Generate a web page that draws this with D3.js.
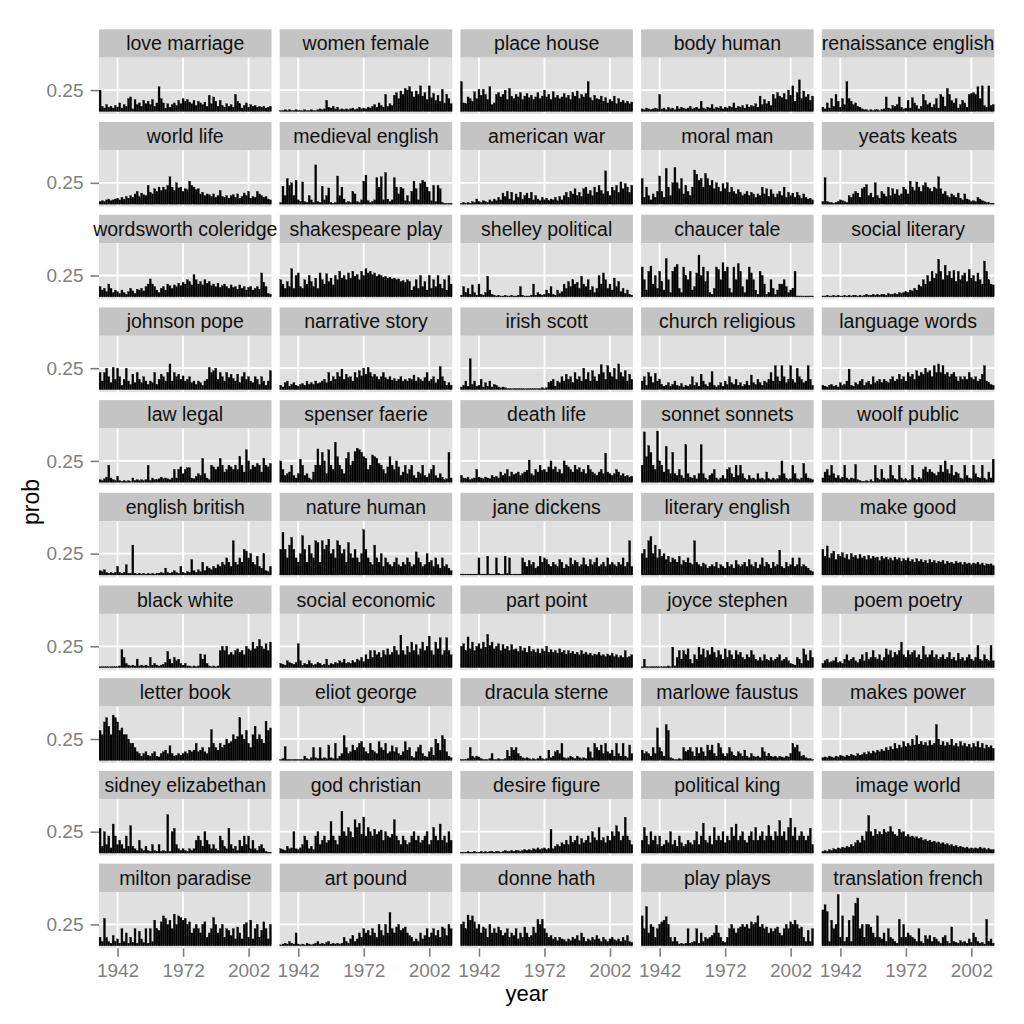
<!DOCTYPE html>
<html><head><meta charset="utf-8">
<script src="https://cdn.jsdelivr.net/npm/d3@7"></script>
<style>html,body{margin:0;padding:0;background:#fff;} svg{display:block;font-family:"Liberation Sans",Arial,Helvetica,sans-serif;}</style>
</head><body><svg id="chart" width="1024" height="1024"></svg>
<script>
// ---- categories / ticks ----
const years = [1934,1935,1936,1937,1938,1939,1940,1941,1942,1943,1944,1945,1946,1947,1948,1949,1950,1951,1952,1953,1954,1955,1956,1957,1958,1959,1960,1961,1962,1963,1964,1965,1966,1967,1968,1969,1970,1971,1972,1973,1974,1975,1976,1977,1978,1979,1980,1981,1982,1983,1984,1985,1986,1987,1988,1989,1990,1991,1992,1993,1994,1995,1996,1997,1998,1999,2000,2001,2002,2003,2004,2005,2006,2007,2008,2009,2010,2011,2012];
const topics = ["love marriage","women female","place house","body human","renaissance english",
"world life","medieval english","american war","moral man","yeats keats",
"wordsworth coleridge","shakespeare play","shelley political","chaucer tale","social literary",
"johnson pope","narrative story","irish scott","church religious","language words",
"law legal","spenser faerie","death life","sonnet sonnets","woolf public",
"english british","nature human","jane dickens","literary english","make good",
"black white","social economic","part point","joyce stephen","poem poetry",
"letter book","eliot george","dracula sterne","marlowe faustus","makes power",
"sidney elizabethan","god christian","desire figure","political king","image world",
"milton paradise","art pound","donne hath","play plays","translation french"];
const xTicks = [1942, 1972, 2002];
const yTicks = [0.25];

// ---- series values: prob x 100, one value per year ----
const loveMarriage = [25,6,4,8,5,6,4,7,5,10,4,8,6,15,17,3,14,8,10,6,13,9,12,8,14,6,10,29,15,10,4,9,5,8,10,7,13,9,15,12,14,11,9,13,7,12,10,8,11,6,19,9,17,12,6,13,7,5,9,6,8,5,20,12,9,4,7,10,5,8,6,7,5,6,5,6,4,5,6];
const womenFemale = [1,1,2,1,2,1,1,2,1,1,1,2,1,1,2,1,1,2,3,2,3,13,5,4,6,3,5,2,3,2,3,2,3,4,2,3,5,3,4,3,5,4,6,8,5,10,7,5,20,6,9,7,19,22,15,24,20,27,25,29,23,17,24,20,30,18,22,14,30,16,21,13,19,12,26,10,20,15,9];
const placeHouse = [35,10,9,17,15,12,23,15,26,19,26,20,14,29,8,10,20,22,17,20,25,14,27,18,15,20,17,22,14,18,21,16,19,14,17,22,15,18,25,17,20,14,23,16,19,15,17,21,16,19,14,22,18,24,15,20,17,21,35,16,13,19,15,14,18,12,16,10,14,12,18,9,15,11,13,10,12,9,11];
const bodyHuman = [3,2,4,3,2,3,4,3,20,3,4,2,5,3,4,2,6,3,5,4,3,4,6,3,4,5,3,12,4,3,5,4,8,3,5,4,6,3,5,4,6,5,10,4,6,5,7,4,8,5,7,6,9,5,18,8,14,9,12,7,20,15,22,18,16,21,14,25,19,30,12,22,37,15,24,17,20,13,18];
const renaissanceEnglish = [5,3,10,4,15,6,20,12,5,15,8,35,15,12,8,10,6,5,3,2,2,1,2,1,2,2,1,2,3,17,4,3,7,6,8,17,5,3,4,13,4,16,10,7,3,6,20,13,8,10,5,8,15,4,20,17,6,27,20,13,10,15,4,8,13,10,5,20,21,22,20,29,15,30,7,5,30,7,8];
const worldLife = [3,4,3,5,6,4,5,6,7,5,8,6,9,7,10,8,12,15,9,13,11,10,22,14,12,18,15,20,16,20,17,22,32,20,16,25,19,20,15,18,17,27,22,20,17,18,12,14,10,12,11,9,12,8,10,16,9,8,10,7,10,11,8,12,7,9,13,10,15,7,9,8,15,12,10,8,9,6,5];
const medievalEnglish = [2,21,10,30,22,25,10,28,5,3,26,3,2,10,5,2,46,3,2,21,5,10,19,2,1,2,33,10,20,6,2,3,2,15,12,3,2,5,27,34,4,2,3,5,31,20,32,5,37,6,3,5,31,20,12,20,18,4,10,3,15,27,18,5,24,28,26,20,15,4,22,3,22,18,2,1,1,1,1];
const americanWar = [1,2,1,2,1,3,2,6,3,2,4,3,2,5,3,6,4,8,5,13,9,15,6,14,4,12,8,14,6,10,13,7,14,5,10,6,4,8,5,7,4,6,5,8,4,9,5,10,14,8,15,12,18,10,14,9,18,20,12,16,10,20,14,22,16,12,39,15,10,20,16,22,14,26,18,24,20,14,22];
const moralMan = [30,8,20,10,5,12,8,15,33,15,8,42,20,10,25,43,25,18,30,12,22,15,10,20,40,35,28,30,20,36,30,22,28,18,25,20,15,24,18,25,14,20,15,12,17,14,10,12,15,10,14,12,8,12,10,20,12,18,9,17,12,8,12,15,10,20,8,14,10,13,8,14,10,7,12,8,6,7,5];
const yeatsKeats = [3,31,3,2,2,1,2,3,5,4,3,2,10,8,12,15,13,8,18,20,23,10,13,8,25,10,7,15,12,9,20,10,18,12,17,10,12,20,17,12,27,20,16,26,20,15,22,25,20,18,15,20,18,32,18,12,15,10,8,12,10,8,13,7,5,12,6,5,3,4,3,8,6,4,3,2,2,1,1];
const wordsworthColeridge = [12,8,10,6,15,10,5,8,6,4,8,5,3,6,10,7,4,9,8,10,7,12,15,21,15,12,8,5,10,12,8,15,13,10,14,12,16,13,17,15,20,18,14,26,20,15,18,14,20,16,18,13,15,12,16,11,13,15,12,10,14,11,12,9,14,10,12,8,11,12,8,10,12,9,28,17,12,4,3];
const shakespearePlay = [20,15,10,18,12,33,10,25,28,12,10,20,15,25,18,12,22,10,28,20,15,27,18,22,14,25,20,30,22,25,20,28,22,30,24,26,20,30,25,33,28,30,26,28,24,26,25,23,24,22,23,21,22,20,21,18,19,17,20,18,8,12,20,10,25,12,18,8,25,10,20,12,25,15,10,20,8,25,15];
const shelleyPolitical = [2,12,5,10,3,14,5,2,15,3,2,5,24,8,3,2,1,2,1,1,2,1,1,2,1,1,2,12,2,1,1,1,2,15,2,5,3,2,3,8,4,12,3,2,8,4,6,15,10,18,12,20,15,17,10,24,15,12,20,8,12,5,10,25,15,28,20,10,15,8,22,12,18,6,10,4,8,3,2];
const chaucerTale = [35,20,8,30,36,15,25,10,30,18,8,45,20,5,30,35,38,10,5,35,25,20,30,8,12,28,49,25,35,18,30,5,3,10,35,32,20,40,30,35,10,5,35,20,39,30,12,5,20,35,28,20,8,3,30,25,15,3,5,20,10,3,8,15,15,20,12,5,8,10,30,1,1,1,1,1,1,1,1];
const socialLiterary = [1,1,2,1,1,2,1,2,1,1,2,1,2,1,2,2,1,2,1,2,3,2,2,3,2,3,2,3,3,2,4,3,3,4,3,5,4,5,6,5,8,7,10,8,14,12,20,15,25,18,30,22,27,44,30,20,37,25,30,22,31,18,30,20,25,28,18,32,22,25,18,28,20,15,42,30,20,15,14];
const johnsonPope = [20,10,20,25,15,8,26,12,25,15,5,12,25,10,6,18,8,20,12,8,15,10,6,10,8,20,6,12,18,15,10,20,30,10,20,15,18,12,16,10,12,15,8,10,6,10,8,5,10,12,26,20,22,25,12,20,15,10,20,14,18,13,10,18,8,15,20,12,15,10,8,15,12,6,15,10,5,10,22];
const narrativeStory = [5,3,8,10,4,6,8,5,4,6,7,5,10,6,8,6,10,7,8,10,12,8,20,10,15,12,20,15,24,12,18,14,15,10,20,14,22,16,25,18,26,20,15,18,15,12,15,20,14,12,15,11,13,10,12,15,10,12,10,13,12,17,10,14,12,10,14,20,10,12,15,8,12,27,15,10,5,8,5];
const irishScott = [3,5,10,4,36,6,10,4,5,12,3,8,4,10,3,6,5,3,2,3,2,1,1,1,1,1,1,1,1,1,1,1,1,1,1,1,1,2,1,2,8,10,12,4,10,8,15,10,18,12,15,8,20,12,15,10,25,12,20,10,22,15,10,18,29,20,12,28,20,15,25,12,30,20,15,22,10,18,12];
const churchReligious = [10,15,5,20,15,8,19,10,12,6,4,5,8,4,6,10,5,4,7,3,5,4,6,15,5,8,4,18,10,6,4,8,21,5,3,5,8,4,10,6,15,8,6,12,5,8,4,6,10,5,17,8,6,12,8,5,10,8,12,20,10,28,15,10,28,15,8,12,28,12,8,25,15,12,8,10,28,12,5];
const languageWords = [5,4,3,5,6,4,5,3,8,5,6,10,24,5,4,8,6,10,12,5,8,10,6,15,8,10,12,8,12,10,8,12,15,10,12,18,12,15,10,20,15,18,12,22,16,20,18,25,20,22,15,28,20,30,20,28,18,20,15,18,20,15,10,15,12,15,12,20,14,12,15,10,12,18,28,10,8,6,5];
const lawLegal = [3,2,4,6,20,5,3,2,7,2,1,2,1,2,1,5,2,3,2,3,2,3,20,2,5,3,3,4,6,4,5,4,3,5,15,5,15,18,10,15,17,17,5,4,7,10,8,28,10,5,3,20,18,15,18,28,20,12,15,20,18,15,20,15,30,20,12,38,25,15,20,18,22,20,12,28,20,18,22];
const spenserFaerie = [25,15,8,10,12,20,8,5,10,27,20,8,10,5,3,12,20,39,20,35,25,10,38,20,15,47,30,20,15,10,28,35,20,25,36,40,38,35,30,28,15,20,32,30,28,22,20,15,10,18,30,20,15,25,18,8,12,20,10,15,20,8,5,12,10,20,8,6,10,15,20,8,5,10,6,3,4,35,5];
const deathLife = [8,5,4,6,3,4,5,15,6,5,4,6,5,4,8,6,7,5,12,8,10,15,7,12,9,10,12,8,10,12,14,26,10,8,15,12,20,14,15,12,18,25,15,18,12,15,10,25,20,18,15,12,20,15,17,12,15,10,20,15,12,10,8,12,15,10,34,12,10,8,10,15,12,8,10,7,8,6,7];
const sonnetSonnets = [20,59,30,43,35,20,15,60,25,20,12,42,15,10,35,10,8,15,8,5,44,10,6,5,8,4,10,44,10,5,3,8,10,15,5,3,5,8,4,15,17,10,6,20,8,20,10,5,3,8,4,5,3,10,4,5,3,12,4,3,5,3,4,8,25,10,5,3,4,20,10,4,3,5,22,10,5,4,3];
const woolfPublic = [5,12,15,8,20,10,5,8,4,6,20,5,3,5,4,21,3,2,1,1,2,1,3,1,20,5,3,15,5,3,4,20,8,4,3,20,5,3,4,2,3,20,5,3,6,4,15,18,12,15,12,10,8,12,20,12,25,15,10,20,8,12,10,5,4,20,8,5,4,20,10,6,5,20,5,3,12,5,27];
const englishBritish = [5,4,6,3,2,3,2,3,10,3,2,3,12,2,2,35,2,1,2,1,2,1,2,1,2,1,2,2,3,2,8,3,2,3,5,3,2,10,3,2,4,3,18,5,3,6,4,15,5,10,8,6,10,8,12,10,15,12,20,15,10,40,15,12,20,15,30,28,20,25,15,12,22,10,8,25,5,4,10];
const natureHuman = [30,50,30,20,35,44,30,20,15,25,46,30,15,35,25,20,40,38,15,40,30,35,42,25,30,20,40,35,25,30,15,38,25,20,30,20,15,25,53,30,20,15,12,35,20,15,25,10,20,15,12,10,15,20,12,10,15,12,20,15,10,12,27,20,15,10,12,25,15,17,10,20,12,8,20,10,12,8,5];
const janeDickens = [1,1,1,1,1,1,1,1,20,1,1,1,22,1,1,1,20,2,1,1,22,2,20,1,1,1,1,1,20,15,10,17,12,15,8,10,22,15,20,18,12,10,15,12,10,18,15,8,12,10,20,12,17,15,10,12,20,12,10,18,12,15,20,10,12,15,10,20,12,15,12,10,15,12,20,10,15,40,10];
const literaryEnglish = [25,30,20,40,45,25,35,20,30,22,25,18,22,15,20,18,15,22,12,17,15,20,14,12,40,15,12,10,14,12,8,10,12,10,15,8,12,10,8,15,10,12,8,17,12,10,12,15,10,18,12,10,15,8,12,20,10,15,12,8,15,10,12,29,10,8,15,10,12,20,10,12,20,10,12,10,8,5,4];
const makeGood = [30,22,34,20,25,28,18,24,22,26,20,24,18,25,21,23,19,24,20,22,18,23,19,22,20,21,17,22,19,21,18,20,17,21,18,20,16,19,17,20,16,18,15,19,16,18,15,17,14,18,15,17,14,16,15,17,13,16,14,15,13,16,14,15,12,15,13,14,12,14,13,15,12,14,11,13,12,13,11];
const blackWhite = [1,1,1,1,1,1,1,1,1,2,21,12,5,3,2,3,2,10,2,3,2,3,2,12,3,5,3,2,3,4,6,19,10,5,12,8,10,5,3,5,2,2,1,2,1,2,16,10,15,5,2,1,2,1,2,20,25,20,25,15,18,15,20,22,18,20,15,25,22,20,30,22,25,33,25,22,28,20,30];
const socialEconomic = [5,4,3,8,6,5,4,6,28,8,3,5,4,8,5,3,4,6,5,3,4,10,3,5,4,6,5,8,6,10,5,6,5,8,6,10,8,12,7,15,10,20,12,20,15,18,12,20,15,22,15,18,25,20,15,38,20,15,25,18,30,20,27,15,22,30,20,25,37,20,15,30,22,35,15,20,35,20,15];
const partPoint = [25,28,20,36,22,30,20,25,28,22,30,24,39,26,30,22,25,28,20,27,22,25,20,27,21,22,19,25,20,23,18,25,19,21,18,22,17,22,19,25,18,21,18,20,17,22,18,20,16,20,17,19,16,18,15,20,16,18,15,17,14,16,15,18,14,15,13,16,14,17,13,15,12,14,12,20,12,13,15];
const joyceStephen = [1,10,1,1,1,1,1,1,1,1,1,1,2,1,24,2,12,20,10,20,15,22,10,5,15,10,24,15,22,12,20,15,24,18,12,20,15,10,22,12,20,15,10,20,15,18,12,10,15,12,20,15,10,8,12,8,15,10,8,12,8,10,12,15,8,10,12,8,5,4,3,12,10,5,22,15,8,20,12];
const poemPoetry = [5,8,10,6,7,8,12,6,7,5,10,15,8,10,12,8,6,10,15,8,18,10,12,20,12,10,15,8,12,22,15,20,12,18,15,20,30,15,12,20,15,18,20,12,15,10,25,15,12,15,20,12,15,10,12,15,10,12,18,10,12,8,17,10,12,8,12,15,10,8,12,26,10,8,15,10,8,26,8];
const letterBook = [35,30,45,50,40,30,53,50,45,35,38,30,30,25,20,20,15,10,8,5,8,10,6,5,8,10,5,4,8,10,12,8,17,8,5,6,8,6,8,10,8,12,10,12,20,10,12,15,10,8,15,36,20,15,12,20,15,18,25,20,22,30,25,28,50,30,25,35,20,15,30,40,25,30,25,20,46,35,38];
const eliotGeorge = [1,2,16,1,1,1,1,1,1,1,1,5,2,1,3,15,3,2,15,2,3,2,18,3,2,20,2,5,8,29,15,8,10,18,12,15,20,22,15,10,8,20,12,10,8,22,15,12,20,8,10,17,10,15,8,6,10,22,12,15,5,3,10,15,18,8,5,4,10,15,6,25,20,12,29,25,10,5,3];
const draculaSterne = [1,1,1,2,15,5,3,5,4,2,1,1,1,2,8,1,1,2,1,1,2,12,5,15,12,15,8,5,3,2,3,2,1,2,1,2,5,2,1,2,12,3,5,10,12,8,20,3,2,3,5,3,2,5,3,2,3,2,15,10,3,20,15,12,18,8,20,10,8,12,5,20,8,5,20,5,3,18,8];
const marloweFaustus = [12,8,10,8,5,15,8,38,15,10,5,42,35,3,2,1,1,2,1,15,10,12,15,10,5,15,8,15,10,5,18,12,18,8,5,20,15,8,5,8,15,10,6,5,10,8,5,12,5,3,8,5,4,5,3,15,10,5,8,5,4,5,3,5,4,3,5,4,8,20,15,18,10,5,6,3,2,2,1];
const makesPower = [3,4,3,5,4,3,5,4,6,5,4,6,5,7,6,5,8,6,7,9,7,10,8,11,9,12,10,13,11,15,12,16,13,20,14,18,15,22,16,20,17,25,18,29,19,22,18,21,17,23,18,20,42,25,18,22,17,21,18,25,17,20,16,22,17,20,16,19,15,20,16,22,15,20,14,18,15,17,14];
const sidneyElizabethan = [29,8,25,10,20,6,34,20,10,15,10,5,20,8,32,8,5,3,15,5,3,8,3,2,10,3,2,10,2,3,2,45,2,25,29,10,5,3,5,3,2,5,3,5,15,20,15,8,25,15,10,5,10,5,3,20,15,8,5,29,10,5,8,3,15,8,20,10,20,5,15,5,3,8,10,5,2,1,1];
const godChristian = [5,4,3,8,5,6,25,5,4,6,10,20,15,5,8,4,20,25,10,15,20,12,15,37,20,15,10,20,49,25,20,30,25,18,39,30,35,22,42,20,30,25,20,28,22,25,27,15,25,20,18,22,39,20,15,10,20,15,10,12,20,25,15,20,12,15,20,25,10,15,30,20,15,34,15,20,12,25,15];
const desireFigure = [1,1,1,2,1,1,2,1,1,2,1,2,1,2,2,1,2,2,1,2,3,2,2,3,2,3,3,2,3,4,3,4,3,5,4,6,4,5,6,4,5,28,5,8,10,8,12,10,15,10,20,12,15,20,10,17,12,15,20,12,25,18,15,30,15,18,12,20,15,25,20,32,25,15,20,42,20,15,10];
const politicalKing = [15,30,20,10,25,15,20,10,20,8,10,15,12,25,10,15,8,20,12,8,10,15,12,10,15,25,10,20,35,15,12,20,10,30,15,20,15,25,12,20,15,30,20,34,15,20,25,15,12,20,25,15,30,15,20,25,15,20,32,20,15,25,20,38,20,25,15,30,41,20,30,15,20,25,20,15,20,29,10];
const imageWorld = [2,3,2,4,3,5,4,6,5,7,6,8,7,10,8,12,15,12,20,15,25,44,25,20,28,22,25,22,28,24,25,31,25,22,20,28,24,25,20,22,19,20,18,19,17,18,15,16,14,15,13,14,12,13,11,12,10,11,9,10,8,9,7,8,7,6,7,5,6,5,6,5,7,5,6,4,5,4,4];
const miltonParadise = [10,5,32,10,5,3,12,5,8,3,20,5,15,3,10,4,20,3,17,8,4,20,3,20,5,30,20,18,28,35,32,25,30,20,37,25,35,33,30,32,25,28,15,20,25,20,15,25,28,10,15,20,33,25,15,20,25,10,20,18,12,20,8,22,15,8,25,27,10,30,8,20,25,10,18,28,20,8,25];
const artPound = [1,2,3,2,5,3,2,15,2,1,2,1,3,2,1,2,3,5,2,3,2,4,5,2,3,2,3,2,3,10,5,3,8,12,5,8,15,10,20,15,18,12,20,15,10,25,18,12,25,15,39,20,15,22,25,18,20,22,15,12,10,5,8,5,15,8,12,20,10,15,20,12,18,10,22,20,12,25,20];
const donneHath = [25,28,20,36,30,35,28,20,25,15,22,20,10,25,15,20,15,22,18,12,15,20,10,15,12,20,8,15,10,22,15,10,12,22,15,31,25,31,20,15,10,12,8,10,6,10,8,7,5,8,6,10,8,12,6,15,10,5,8,6,10,7,12,8,5,10,7,5,8,10,7,6,8,5,10,6,12,5,4];
const playPlays = [35,20,46,15,25,22,10,20,25,28,30,34,25,10,5,10,5,2,3,2,3,20,3,4,5,20,3,15,5,10,8,10,12,15,24,15,10,5,4,10,20,25,20,15,20,22,25,22,25,20,28,25,27,35,22,25,20,22,15,20,17,20,22,15,12,20,25,20,28,25,30,25,20,22,10,5,18,5,20];
const translationFrench = [42,48,40,5,30,20,25,60,10,35,5,10,30,5,35,50,56,20,25,10,25,25,22,15,10,35,10,8,15,5,20,10,8,5,3,31,10,25,10,15,12,10,8,5,20,5,3,12,8,12,5,10,8,5,3,10,12,5,3,22,5,4,3,6,4,5,3,8,4,15,10,5,3,4,2,31,5,8,3];

const series = [loveMarriage,womenFemale,placeHouse,bodyHuman,renaissanceEnglish,
worldLife,medievalEnglish,americanWar,moralMan,yeatsKeats,
wordsworthColeridge,shakespearePlay,shelleyPolitical,chaucerTale,socialLiterary,
johnsonPope,narrativeStory,irishScott,churchReligious,languageWords,
lawLegal,spenserFaerie,deathLife,sonnetSonnets,woolfPublic,
englishBritish,natureHuman,janeDickens,literaryEnglish,makeGood,
blackWhite,socialEconomic,partPoint,joyceStephen,poemPoetry,
letterBook,eliotGeorge,draculaSterne,marloweFaustus,makesPower,
sidneyElizabethan,godChristian,desireFigure,politicalKing,imageWorld,
miltonParadise,artPound,donneHath,playPlays,translationFrench];

series.forEach((s,i)=>{ if (s.length !== years.length) console.error('length mismatch', topics[i], s.length); });

// ---- layout ----
const svg = d3.select('#chart');
const nCol = 5, nRow = 10;
const panelW = 172.5, panelH = 56.3, stripH = 28.4;
const colPitch = 180.7, rowPitch = 92.7;
const left0 = 99, top0 = 29.3;
const axisGrey = '#7f7f7f';

const x = d3.scaleLinear().domain([1933.5, 2012.5]).range([0, panelW]);
const y = d3.scaleLinear().domain([-0.03, 0.63]).range([panelH, 0]);

topics.forEach((t, i) => {
  const c = i % nCol, r = Math.floor(i / nCol);
  const g = svg.append('g').attr('transform', `translate(${left0 + c * colPitch},${top0 + r * rowPitch})`);
  // strip
  g.append('rect').attr('width', panelW).attr('height', stripH).attr('fill', '#c4c4c4');
  g.append('text').attr('x', panelW / 2).attr('y', stripH / 2 + 6.9)
    .attr('text-anchor', 'middle').attr('font-size', 19.5).attr('fill', '#111').text(t);
  // panel
  const p = g.append('g').attr('transform', `translate(0,${stripH})`);
  p.append('rect').attr('width', panelW).attr('height', panelH).attr('fill', '#e0e0e0');
  p.selectAll('line.vgrid').data(xTicks).join('line').attr('class', 'vgrid')
    .attr('x1', d => x(d)).attr('x2', d => x(d)).attr('y1', 0).attr('y2', panelH)
    .attr('stroke', '#fff').attr('stroke-width', 1.8);
  p.selectAll('line.hgrid').data(yTicks).join('line').attr('class', 'hgrid')
    .attr('x1', 0).attr('x2', panelW).attr('y1', d => y(d)).attr('y2', d => y(d))
    .attr('stroke', '#fff').attr('stroke-width', 1.8);
  const data = years.map((yr, k) => ({ year: yr, prob: series[i][k] / 100 }));
  p.selectAll('rect.bar').data(data).join('rect').attr('class', 'bar')
    .attr('x', d => x(d.year - 0.45))
    .attr('width', d => x(d.year + 0.45) - x(d.year - 0.45))
    .attr('y', d => y(d.prob))
    .attr('height', d => y(0) - y(d.prob))
    .attr('fill', '#000').attr('stroke', '#000').attr('stroke-width', 0.3);
  // axes
  if (c === 0) {
    const ax = p.append('g').call(d3.axisLeft(y).tickValues(yTicks).tickSize(8.5).tickPadding(7).tickFormat(d3.format('.2f')));
    ax.select('.domain').remove();
    ax.selectAll('line').attr('stroke', axisGrey).attr('stroke-width', 1.6);
    ax.selectAll('text').attr('fill', axisGrey).attr('font-size', 19).attr('font-family', '"Liberation Sans",Arial,sans-serif');
  }
  if (r === nRow - 1) {
    const ax = p.append('g').attr('transform', `translate(0,${panelH})`)
      .call(d3.axisBottom(x).tickValues(xTicks).tickSize(8.5).tickPadding(6.4).tickFormat(d3.format('d')));
    ax.select('.domain').remove();
    ax.selectAll('line').attr('stroke', axisGrey).attr('stroke-width', 1.6);
    ax.selectAll('text').attr('fill', axisGrey).attr('font-size', 19).attr('font-family', '"Liberation Sans",Arial,sans-serif');
  }
});

// axis titles
svg.append('text').attr('x', 527).attr('y', 1001).attr('text-anchor', 'middle')
  .attr('font-size', 22).attr('fill', '#000').text('year');
svg.append('text').attr('transform', 'translate(39,502) rotate(-90)').attr('text-anchor', 'middle')
  .attr('font-size', 23).attr('fill', '#000').text('prob');
</script>
</body></html>
